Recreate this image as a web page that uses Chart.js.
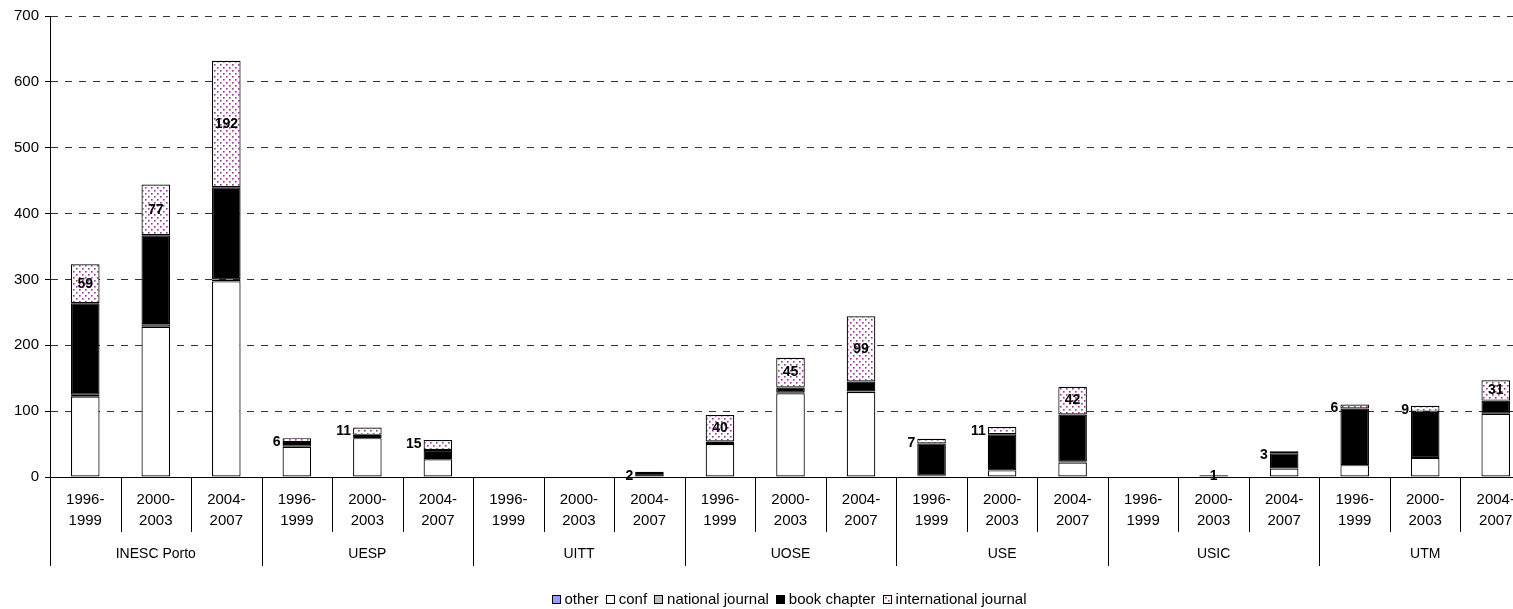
<!DOCTYPE html>
<html>
<head>
<meta charset="utf-8">
<title>Publications by unit and period</title>
<script src="https://cdn.jsdelivr.net/npm/chart.js@4.4.1/dist/chart.umd.min.js"></script>
<style>
  body { margin: 0; overflow: hidden; background: #fff; }
  #wrap { position: relative; width: 1578px; height: 609px; }
  #legend {
    position: absolute; left: 0; top: 590px; width: 1578px;
    display: flex; justify-content: center;
    font: 15px "Liberation Sans", Arial, sans-serif; line-height: 18px; color: #000;
  }
  .item { display: flex; align-items: center; margin: 0 3.5px; }
  .box { width: 7px; height: 7px; border: 1px solid #000; margin-right: 4px; }
</style>
</head>
<body>
<div id="wrap">
  <canvas id="chart" width="1578" height="609"></canvas>
  <div id="legend"></div>
</div>
<script>
const groups = ['INESC Porto', 'UESP', 'UITT', 'UOSE', 'USE', 'USIC', 'UTM'];
const periods = [['1996-', '1999'], ['2000-', '2003'], ['2004-', '2007']];
const yTicks = [0, 100, 200, 300, 400, 500, 600, 700];

const seriesNames = ['other', 'conf', 'national journal', 'book chapter', 'international journal'];
const other = [0,0,0, 0,0,0, 0,0,0, 0,0,0, 0,0,0, 0,0,0, 0,0,0];
const conf = [122,228,297, 46,59,27, 0,0,0, 50,127,129, 1,10,22, 0,0,13, 18,29,96];
const nationalJournal = [3,4,3, 4,0,0, 0,0,0, 0,1,1, 1,0,1, 0,0,0, 0,0,0];
const bookChapter = [139,135,140, 3,5,14, 0,0,6, 4,8,15, 49,55,72, 0,2,23, 86,70,20];
const intJournal = [59,77,192, 6,11,15, 0,0,2, 40,45,99, 7,11,42, 0,1,3, 6,9,31];

const categories = groups.flatMap(() => periods);
const FONT = '"Liberation Sans", Arial, sans-serif';

// dotted fill used by Excel for "international journal"
const pc = document.createElement('canvas');
pc.width = 6; pc.height = 6;
const pctx = pc.getContext('2d');
pctx.fillStyle = '#fff';
pctx.fillRect(0, 0, 6, 6);
pctx.fillStyle = '#993399';
pctx.fillRect(1, 1, 1.6, 1.6);
pctx.fillRect(4, 4, 1.6, 1.6);
const dots = document.getElementById('chart').getContext('2d').createPattern(pc, 'repeat');

const fills = ['#9999ff', '#ffffff', '#c0c0c0', '#000000', dots];
const values = [other, conf, nationalJournal, bookChapter, intJournal];

// category separators under the axis
const separators = {
  id: 'separators',
  afterDraw(chart) {
    const x = chart.scales.x;
    const ctx = chart.ctx;
    const n = categories.length;
    const w = (x.right - x.left) / n;
    ctx.save();
    ctx.strokeStyle = '#000';
    ctx.lineWidth = 1;
    for (let i = 0; i <= n; i++) {
      const px = Math.round(x.left + i * w) + 0.5;
      ctx.beginPath();
      ctx.moveTo(px, x.top);
      ctx.lineTo(px, i % 3 === 0 ? 566 : 532);
      ctx.stroke();
    }
    ctx.restore();
  }
};

// value labels of the international journal series
const intLabels = {
  id: 'intLabels',
  afterDatasetsDraw(chart) {
    const meta = chart.getDatasetMeta(4);
    const ctx = chart.ctx;
    ctx.save();
    ctx.font = 'bold 14px ' + FONT;
    ctx.fillStyle = '#000';
    ctx.textBaseline = 'middle';
    meta.data.forEach((bar, i) => {
      const v = intJournal[i];
      if (!v) return;
      const h = bar.base - bar.y;
      if (h >= 16) {
        ctx.textAlign = 'center';
        ctx.fillText(String(v), bar.x, (bar.y + bar.base) / 2);
      } else if (bar.base - chart.scales.y.getPixelForValue(0) > -3) {
        // bar barely above the axis: label sits on the bar
        ctx.textAlign = 'center';
        ctx.fillText(String(v), bar.x, bar.y + 1);
      } else {
        ctx.textAlign = 'right';
        ctx.fillText(String(v), bar.x - bar.width / 2 - 2, bar.y + 4);
      }
    });
    ctx.restore();
  }
};

const chart = new Chart(document.getElementById('chart'), {
  type: 'bar',
  data: {
    labels: categories,
    datasets: seriesNames.map((name, k) => ({
      label: name,
      data: values[k],
      backgroundColor: fills[k],
      borderColor: '#000',
      borderWidth: 1.2,
      borderSkipped: false,
      categoryPercentage: 1,
      barPercentage: 0.405
    }))
  },
  options: {
    responsive: false,
    animation: false,
    devicePixelRatio: 1,
    layout: { padding: { left: 0, top: 16, right: 47, bottom: 43 } },
    plugins: {
      legend: { display: false },
      tooltip: { enabled: false }
    },
    scales: {
      x: {
        stacked: true,
        weight: 0,
        grid: { display: false, drawTicks: false },
        border: { display: true, color: '#000', width: 1 },
        ticks: {
          color: '#000', autoSkip: false, maxRotation: 0, minRotation: 0,
          padding: 12, font: { family: FONT, size: 15, lineHeight: 1.4 }
        },
        afterFit(s) { s.height = 55; }
      },
      x2: {
        type: 'category',
        position: 'bottom',
        weight: 1,
        labels: groups,
        offset: true,
        grid: { display: false, drawTicks: false },
        border: { display: false },
        ticks: {
          color: '#000', autoSkip: false, maxRotation: 0,
          padding: 14, font: { family: FONT, size: 14, lineHeight: 1.2 }
        },
        afterFit(s) { s.height = 34; }
      },
      y: {
        stacked: true,
        min: 0,
        max: 700,
        afterBuildTicks(s) { s.ticks = yTicks.map(v => ({ value: v })); },
        grid: {
          color: '#333', lineWidth: 1,
          tickLength: 5, tickColor: '#000', tickBorderDash: [],
          drawTicks: true
        },
        border: { display: true, color: '#000', width: 1, dash: [7, 7] },
        ticks: { color: '#000', padding: 6, font: { family: FONT, size: 15 } },
        afterFit(s) { s.width = 50; }
      }
    }
  },
  plugins: [separators, intLabels]
});

// legend in Excel style, built from the series
const legend = document.getElementById('legend');
seriesNames.forEach((name, k) => {
  const item = document.createElement('div');
  item.className = 'item';
  const box = document.createElement('span');
  box.className = 'box';
  if (k === 4) {
    box.style.backgroundImage = 'url(' + pc.toDataURL() + ')';
  } else {
    box.style.background = fills[k];
  }
  const txt = document.createElement('span');
  txt.textContent = name;
  item.appendChild(box);
  item.appendChild(txt);
  legend.appendChild(item);
});
</script>
</body>
</html>
